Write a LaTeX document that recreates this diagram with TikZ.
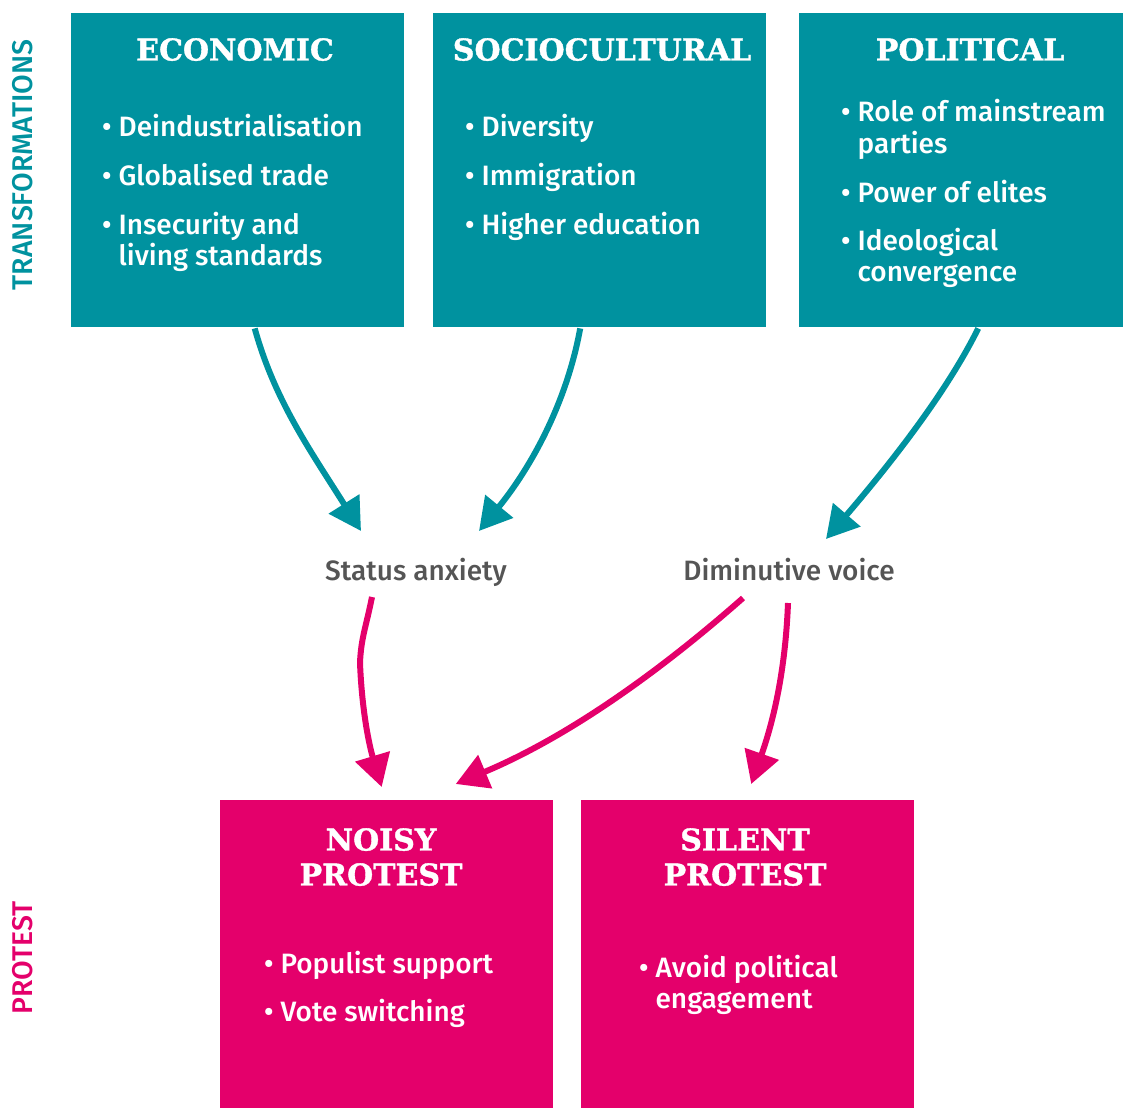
\documentclass[tikz,border=0pt]{standalone}
\usepackage{fontspec}
\setmainfont{Fira Sans}[UprightFont=* Medium, BoldFont=* SemiBold]
\newfontfamily\slabfont{DejaVu Serif}[BoldFeatures={FakeBold=1.2}]
\usetikzlibrary{positioning,calc,arrows.meta}
\definecolor{transcol}{HTML}{00929F}
\definecolor{protcol}{HTML}{E4006B}
\definecolor{labgray}{HTML}{555555}
\begin{document}
\begin{tikzpicture}[x=1pt,y=-1pt]
		\tikzset{
			panel/.style={rectangle, inner sep=0pt, anchor=north west, minimum width=333pt, minimum height=314pt},
			heading/.style={text=white, font=\slabfont\bfseries\fontsize{30}{35}\selectfont, align=center, anchor=north, inner sep=0pt},
			items/.style={text=white, font=\fontsize{28}{31}\selectfont, anchor=base west, inner sep=0pt},
			state/.style={text=labgray, font=\fontsize{28}{31}\selectfont, anchor=base, inner sep=0pt},
			side/.style={rotate=90, font=\fontsize{28.5}{30}\selectfont, inner sep=0pt},
			tarrow/.style={draw=transcol, line width=6pt, -{Triangle[length=32pt,width=35pt]}},
			parrow/.style={draw=protcol, line width=6pt, -{Triangle[length=32pt,width=35pt]}},
		}
		\useasboundingbox (0,0) rectangle (1123,1107);
		\coordinate (kink) at (360,663); % bend of the left pink arrow
		
		% Side captions.
		\path (23,165) node[side, text=transcol] (transcap) {TRANSFORMATIONS};
		\path (23,958) node[side, text=protcol] (protcap) {PROTEST};
		
		% The three transformation panels.
		\path (71,13)  node[panel, fill=transcol] (econ) {};
		\path (433,13) node[panel, fill=transcol] (socio) {};
		\path (799,13) node[panel, fill=transcol] (pol) {};
		\path (235,38) node[heading] (econtitle) {ECONOMIC};
		\path (602,38) node[heading] (sociotitle) {SOCIOCULTURAL};
		\path (970,38) node[heading] (poltitle) {POLITICAL};
		\path (102,137) node[items] (econlist) {\begin{tabular}[t]{@{}l@{\hspace{7pt}}l@{}}
			• & Deindustrialisation\\[17pt]
			• & Globalised trade\\[17pt]
			• & Insecurity and\\
			  & living standards\end{tabular}};
		\path (465,137) node[items] (sociolist) {\begin{tabular}[t]{@{}l@{\hspace{7pt}}l@{}}
			• & Diversity\\[17pt]
			• & Immigration\\[17pt]
			• & Higher education\end{tabular}};
		\path (841,122) node[items] (pollist) {\begin{tabular}[t]{@{}l@{\hspace{7pt}}l@{}}
			• & Role of mainstream\\
			  & parties\\[17pt]
			• & Power of elites\\[17pt]
			• & Ideological\\
			  & convergence\end{tabular}};
		
		% The two protest panels.
		\path (220,800) node[panel, fill=protcol, minimum height=320pt] (noisy) {};
		\path (581,800) node[panel, fill=protcol, minimum height=320pt] (silent) {};
		\path (381,828) node[heading] (noisytitle) {NOISY\\PROTEST};
		\path (745,828) node[heading] (silenttitle) {SILENT\\PROTEST};
		\path (264,973) node[items] (noisylist) {\begin{tabular}[t]{@{}l@{\hspace{7pt}}l@{}}
			• & Populist support\\[17pt]
			• & Vote switching\end{tabular}};
		\path (639,977) node[items] (silentlist) {\begin{tabular}[t]{@{}l@{\hspace{7pt}}l@{}}
			• & Avoid political\\
			  & engagement\end{tabular}};
		
		% The two states in between.
		\path (416,580) node[state] (status) {Status anxiety};
		\path (789,580) node[state] (voice) {Diminutive voice};
		
		% Arrows from the transformations.
		\draw[tarrow] ($(econ.south)+(17,1)$) .. controls +(20,72) and +(-51,-81) .. ($(status.base)+(-55,-49)$);
		\draw[tarrow] ($(socio.south)+(-19.5,1)$) .. controls +(-15,82) and +(46,-56) .. ($(status.base)+(63,-49)$);
		\draw[tarrow] ($(pol.south)+(12.5,1)$) .. controls +(-33,67) and +(59,-69) .. ($(voice.base)+(37,-41)$);
		
		% Arrows to the protests.
		\draw[parrow] ($(status.base)+(-44,17)$) .. controls +(-6,30) and +(1,-25) .. (kink)
			.. controls +(2,50) and +(-12,-40) .. ($(noisy.north)+(-5,-13)$);
		\draw[parrow] ($(voice.base)+(-46,18)$) .. controls +(-93,82) and +(105,-44) .. ($(noisy.north)+(69,-16)$);
		\draw[parrow] ($(voice.base)+(-1,23)$) .. controls +(-3,77) and +(19,-54) .. ($(silent.north)+(3.5,-16)$);
\end{tikzpicture}
\end{document}
